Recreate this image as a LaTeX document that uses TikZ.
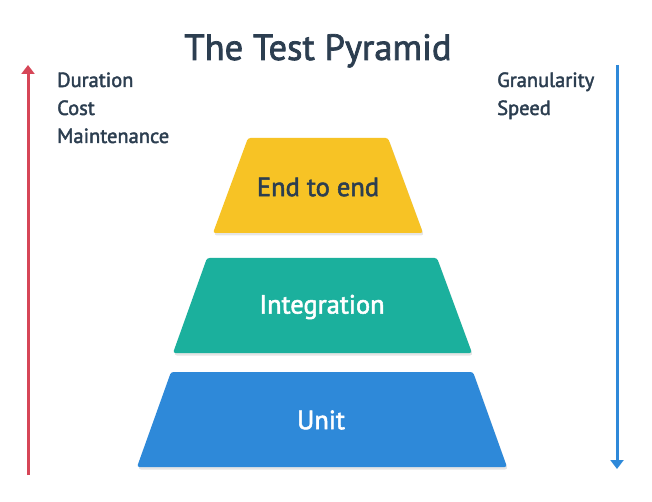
\documentclass[tikz,border=0pt]{standalone}
\usepackage{fontspec}
\setmainfont{PT Sans}[FakeBold=2]
\usetikzlibrary{arrows.meta}
\definecolor{ink}{HTML}{2C3E50}
\definecolor{yel}{HTML}{F7C325}
\definecolor{teal}{HTML}{1BB09D}
\definecolor{blu}{HTML}{2E89D9}
\definecolor{redar}{HTML}{D64657}
\tikzset{
  layer/.style={rounded corners=2.5pt},
  shade/.style={fill=black,opacity=0.10,rounded corners=3pt},
  label/.style={anchor=base west,inner sep=0pt,text=ink,font=\fontsize{20.5}{24}\selectfont},
  laytext/.style={inner sep=0pt,font=\fontsize{26.5}{30}\selectfont},
  axis/.style={line width=3pt,-{Triangle[width=13pt,length=9pt]}},
}
\begin{document}
\begin{tikzpicture}[x=1pt,y=-1pt]
\useasboundingbox (0,0) rectangle (652,502);
\fill[white] (0,0) rectangle (652,502);
% title
\node[anchor=base,inner sep=0pt,text=ink,font=\fontsize{36.5}{40}\selectfont] (title) at (318,60) {The Test Pyramid};
% left labels
\node[label] (dur) at (57,87) {Duration};
\node[label] (cost) at (57,115) {Cost};
\node[label] (maint) at (57,143) {Maintenance};
% right labels
\node[label] (gran) at (497,87) {Granularity};
\node[label] (speed) at (497,115) {Speed};
% arrows
\coordinate (rb) at (28,475);
\coordinate (rt) at (28,65);
\coordinate (bt) at (617,65);
\coordinate (bb) at (617,469);
\draw[axis,redar] (rb) -- (rt);
\draw[axis,blu] (bt) -- (bb);
% shadows
\fill[shade] (249,140) -- (389,140) -- (424,235.5) -- (214,235.5) -- cycle;
\fill[shade] (208,260) -- (438,260) -- (473,355.5) -- (174,355.5) -- cycle;
\fill[shade] (172,374) -- (474,374) -- (508,469.5) -- (138,469.5) -- cycle;
% layers
\fill[yel,layer] (248,138) -- (388,138) -- (423,233) -- (213,233) -- cycle;
\fill[teal,layer] (207,258) -- (437,258) -- (472,353) -- (173,353) -- cycle;
\fill[blu,layer] (171,372) -- (473,372) -- (507,467) -- (137,467) -- cycle;
\node[laytext,text=ink] (e2e) at (318,187) {End to end};
\node[laytext,text=white] (integ) at (322,307) {Integration};
\node[laytext,text=white] (unit) at (321,420) {Unit};
\end{tikzpicture}
\end{document}
